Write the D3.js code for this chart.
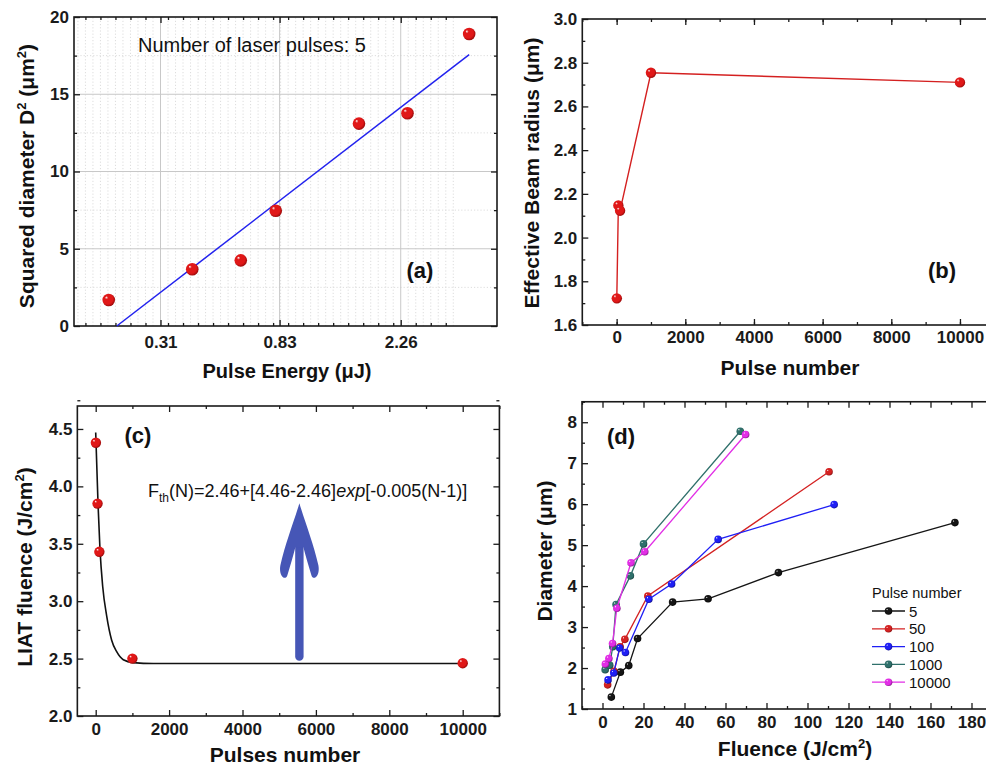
<!DOCTYPE html>
<html>
<head>
<meta charset="utf-8">
<script src="https://cdn.jsdelivr.net/npm/d3@7"></script>
<style>
  body { margin: 0; background: #fff; }
</style>
</head>
<body>
<svg id="chart" width="986" height="769"></svg>
<script>
// ---- (a) squared diameter vs pulse energy (5 pulses) ----
const energyA = [0.202, 0.403, 0.602, 0.804, 1.60, 2.39, 3.98]
const diam2A = [1.68, 3.67, 4.25, 7.46, 13.1, 13.77, 18.9]
const fitEnergyA = [0.216, 3.98]
const fitDiam2A = [0, 17.56]
const energyTicksA = [0.31, 0.83, 2.26]
const diam2TicksA = [0, 5, 10, 15, 20]

// ---- (b) effective beam radius vs pulse number ----
const pulsesB = [5, 50, 100, 1000, 10000]
const radiusB = [1.722, 2.147, 2.123, 2.754, 2.71]

// ---- (c) LIAT fluence vs pulses number ----
const pulsesC = [5, 50, 100, 1000, 10000]
const fluenceC = [4.38, 3.85, 3.43, 2.50, 2.46]
// fitted curve
const fitPulsesC = [0, 63, 117, 190, 300, 435, 572, 752, 1025, 1570, 10000]
const fitFluenceC = [4.47, 3.85, 3.45, 3.13, 2.87, 2.66, 2.56, 2.49, 2.465, 2.457, 2.457]

// ---- (d) diameter vs fluence, one series per pulse number ----
const seriesD = ["5", "50", "100", "1000", "10000"]
const colorsD = ["#151515", "#d42222", "#1f1ff5", "#2f706b", "#e22ee6"]
const fluence_5 = [4.3, 8.7, 12.8, 17.1, 34.2, 51.5, 85.8, 171.9]
const diam_5 = [1.29, 1.90, 2.06, 2.72, 3.61, 3.69, 4.33, 5.55]
const fluence_50 = [2.5, 5.6, 8.6, 10.9, 22.1, 110.5]
const diam_50 = [1.59, 1.92, 2.52, 2.70, 3.76, 6.79]
const fluence_100 = [2.7, 5.5, 8.4, 11.2, 22.6, 33.7, 56.4, 113]
const diam_100 = [1.71, 1.88, 2.49, 2.38, 3.68, 4.05, 5.14, 5.99]
const fluence_1000 = [1.3, 3.5, 5.0, 6.6, 13.6, 20.0, 67.2]
const diam_1000 = [1.96, 2.07, 2.52, 3.55, 4.25, 5.03, 7.78]
const fluence_10000 = [1.4, 3.1, 4.9, 7.0, 13.9, 20.6, 69.8]
const diam_10000 = [2.10, 2.23, 2.60, 3.46, 4.57, 4.84, 7.70]
const fluenceD = [fluence_5, fluence_50, fluence_100, fluence_1000, fluence_10000]
const diamD = [diam_5, diam_50, diam_100, diam_1000, diam_10000]

const FONT = '"Liberation Sans", Arial, Helvetica, sans-serif'
const svg = d3.select("#chart")
const defs = svg.append("defs")

// shiny sphere markers
function sphere(id, base, dark) {
    const gr = defs.append("radialGradient").attr("id", id)
        .attr("cx", "45%").attr("cy", "45%").attr("r", "60%")
        .attr("fx", "30%").attr("fy", "28%")
    gr.append("stop").attr("offset", "0%").attr("stop-color", "#ffffff")
    gr.append("stop").attr("offset", "22%").attr("stop-color", base)
    gr.append("stop").attr("offset", "70%").attr("stop-color", base)
    gr.append("stop").attr("offset", "100%").attr("stop-color", dark)
}
sphere("ball-red", "#e01818", "#8a0606")
const darkD = ["#000000", "#7a0c0c", "#0a0a80", "#123a36", "#7a107e"]
colorsD.forEach((c, i) => sphere("ball-d" + i, c, darkD[i]))

function ticks(g, make, tr, values, size, fmt, pad) {
    const a = make().tickValues(values).tickSize(-size).tickSizeOuter(0)
        .tickPadding(pad || 0).tickFormat(fmt || (() => ""))
    const s = g.append("g").attr("transform", tr).call(a)
    s.select(".domain").remove()
    s.attr("font-size", 17).attr("font-family", FONT).attr("font-weight", "bold").attr("color", "#1a1a1a")
    s.selectAll("line").attr("stroke-width", 1.3)
    return s
}

// frame with inward ticks on all four sides
function axes(g, x, y, o) {
    const [xl, xr] = x.range(), [yb, yt] = y.range()
    const sides = [
        [() => d3.axisBottom(x), `translate(0,${yb})`, o.xMinor, o.xMajor, o.xFmt, o.xPad],
        [() => d3.axisTop(x), `translate(0,${yt})`, o.xMinor, o.xMajor, null, 0],
        [() => d3.axisLeft(y), `translate(${xl},0)`, o.yMinor, o.yMajor, o.yFmt, 5],
        [() => d3.axisRight(y), `translate(${xr},0)`, o.yMinor, o.yMajor, null, 0]
    ]
    sides.forEach(([make, tr, minor, major, fmt, pad]) => {
        ticks(g, make, tr, minor, 3)
        ticks(g, make, tr, major, 6, fmt, pad)
    })
    g.append("rect").attr("x", xl).attr("y", yt).attr("width", xr - xl).attr("height", yb - yt)
        .attr("fill", "none").attr("stroke", "#1a1a1a").attr("stroke-width", 1.6)
}

function label(g, txt, x, y, size, weight, anchor, rotate) {
    const t = g.append("text").attr("font-family", FONT).attr("font-size", size)
        .attr("font-weight", weight || "normal").attr("fill", "#111")
        .attr("text-anchor", anchor || "middle")
    if (rotate) t.attr("transform", `translate(${x},${y}) rotate(-90)`)
    else t.attr("x", x).attr("y", y)
    return t.text(txt)
}
function sup(t, txt) {
    t.append("tspan").attr("font-size", "0.62em").attr("dy", "-0.6em").text(txt)
    return t.append("tspan").attr("dy", "0.37em")
}

const range = (a, b, s) => d3.range(a, b + s / 2, s)

// ================= (a) =================
{
    const g = svg.append("g")
    const x = d3.scaleLog().domain([0.1516, 5.01]).range([74, 497])
    const y = d3.scaleLinear().domain([0, 20]).range([326, 17])
    const lnStep = (Math.log(2.26) - Math.log(0.31)) / 2 / 16
    const minorX = d3.range(-30, 40).map(k => Math.exp(Math.log(0.31) + k * lnStep))
        .filter(v => v > 0.1516 && v < 5.01 && !energyTicksA.some(t => Math.abs(t - v) < 1e-6))
    const minorY = [2.5, 7.5, 12.5, 17.5]

    // grid
    g.append("g").selectAll("line").data(minorX).join("line")
        .attr("x1", d => x(d)).attr("x2", d => x(d)).attr("y1", y(0)).attr("y2", y(20))
        .attr("stroke", "#d4d4d4").attr("stroke-width", 0.8).attr("stroke-dasharray", "1.2,2")
    g.append("g").selectAll("line").data(minorY).join("line")
        .attr("x1", x.range()[0]).attr("x2", x.range()[1]).attr("y1", d => y(d)).attr("y2", d => y(d))
        .attr("stroke", "#d4d4d4").attr("stroke-width", 0.8).attr("stroke-dasharray", "1.2,2")
    g.append("g").selectAll("line").data(energyTicksA).join("line")
        .attr("x1", d => x(d)).attr("x2", d => x(d)).attr("y1", y(0)).attr("y2", y(20))
        .attr("stroke", "#c8c8c8").attr("stroke-width", 1)
    g.append("g").selectAll("line").data([5, 10, 15]).join("line")
        .attr("x1", x.range()[0]).attr("x2", x.range()[1]).attr("y1", d => y(d)).attr("y2", d => y(d))
        .attr("stroke", "#c8c8c8").attr("stroke-width", 1)

    axes(g, x, y, {
        xMajor: energyTicksA, xMinor: minorX.filter((_, i) => i % 2 === 1), xFmt: d => d.toFixed(2), xPad: 10,
        yMajor: diam2TicksA, yMinor: minorY, yFmt: d3.format("d")
    })

    g.append("path").datum(fitEnergyA.map((e, i) => [e, fitDiam2A[i]]))
        .attr("d", d3.line().x(d => x(d[0])).y(d => y(d[1])))
        .attr("fill", "none").attr("stroke", "#2222ee").attr("stroke-width", 1.5)
    g.append("g").selectAll("circle").data(energyA).join("circle")
        .attr("cx", d => x(d)).attr("cy", (d, i) => y(diam2A[i])).attr("r", 6.3)
        .attr("fill", "url(#ball-red)")

    label(g, "Number of laser pulses: 5", 138, 52, 20, "normal", "start")
    label(g, "(a)", 420, 278, 22, "bold")
    label(g, "Pulse Energy (\u03bcJ)", 287, 378, 20, "bold")
    const t = label(g, "Squared diameter D", 34, 176, 21, "bold", "middle", true)
    sup(t, "2").text(" (\u03bcm")
    sup(t, "2").text(")")
}

// ================= (b) =================
{
    const g = svg.append("g")
    const x = d3.scaleLinear().domain([-1000, 11000]).range([582.3, 994.3])
    const y = d3.scaleLinear().domain([1.6, 3.0]).range([325, 19])
    axes(g, x, y, {
        xMajor: range(0, 10000, 2000), xMinor: range(-1000, 11000, 1000), xFmt: d3.format("d"), xPad: 6,
        yMajor: range(1.6, 3.0, 0.2), yMinor: range(1.7, 2.9, 0.2), yFmt: d3.format(".1f")
    })
    const pts = pulsesB.map((p, i) => [p, radiusB[i]])
    g.append("path").datum(pts).attr("d", d3.line().x(d => x(d[0])).y(d => y(d[1])))
        .attr("fill", "none").attr("stroke", "#d42020").attr("stroke-width", 1.4)
    g.append("g").selectAll("circle").data(pts).join("circle")
        .attr("cx", d => x(d[0])).attr("cy", d => y(d[1])).attr("r", 5.2).attr("fill", "url(#ball-red)")
    label(g, "(b)", 942, 278, 22, "bold")
    label(g, "Pulse number", 790, 375, 21, "bold")
    label(g, "Effective Beam radius (\u03bcm)", 539, 173, 21, "bold", "middle", true)
}

// ================= (c) =================
{
    const g = svg.append("g")
    const x = d3.scaleLinear().domain([-500, 11000]).range([77.35, 499.4])
    const y = d3.scaleLinear().domain([2.0, 4.7]).range([716, 406])
    axes(g, x, y, {
        xMajor: range(0, 10000, 2000), xMinor: range(1000, 11000, 2000), xFmt: d3.format("d"), xPad: 7,
        yMajor: range(2.0, 4.5, 0.5), yMinor: range(2.25, 4.75, 0.5), yFmt: d3.format(".1f")
    })
    g.append("path").datum(fitPulsesC.map((p, i) => [p, fitFluenceC[i]]))
        .attr("d", d3.line().x(d => x(d[0])).y(d => y(d[1])).curve(d3.curveMonotoneX))
        .attr("fill", "none").attr("stroke", "#111").attr("stroke-width", 1.6)
    g.append("g").selectAll("circle").data(pulsesC).join("circle")
        .attr("cx", d => x(d)).attr("cy", (d, i) => y(fluenceC[i])).attr("r", 5.2).attr("fill", "url(#ball-red)")

    // big blue arrow pointing at the equation
    const ax = x(5550), ay = y(3.853), ab = y(2.517)
    g.append("line").attr("x1", ax).attr("x2", ax).attr("y1", ay + 44).attr("y2", ab)
        .attr("stroke", "#4656b6").attr("stroke-width", 8.4).attr("stroke-linecap", "round")
    g.append("path").attr("transform", `translate(${ax},${ay})`)
        .attr("d", "M0,0 C6,20 14,40 19,62 C21,73 14,78 12,72 C9,62 6,52 4,44 L-4,44 C-6,52 -9,62 -12,72 C-14,78 -21,73 -19,62 C-14,40 -6,20 0,0 Z")
        .attr("fill", "#4656b6")

    const eq = label(g, "F", 148, 497, 18, "normal", "start")
    eq.append("tspan").attr("font-size", 12).attr("dy", 5).text("th")
    eq.append("tspan").attr("dy", -5).text("(N)=2.46+[4.46-2.46]")
    eq.append("tspan").attr("font-style", "italic").text("exp")
    eq.append("tspan").text("[-0.005(N-1)]")

    label(g, "(c)", 138, 443, 22, "bold")
    label(g, "Pulses number", 285, 762, 21, "bold")
    const t = label(g, "LIAT fluence (J/cm", 32, 567, 21, "bold", "middle", true)
    sup(t, "2").text(")")
}

// ================= (d) =================
{
    const g = svg.append("g")
    const x = d3.scaleLinear().domain([-10, 190]).range([582, 992])
    const y = d3.scaleLinear().domain([1, 8.5]).range([709, 401.75])
    axes(g, x, y, {
        xMajor: range(0, 180, 20), xMinor: range(-10, 190, 20), xFmt: d3.format("d"), xPad: 7,
        yMajor: range(1, 8, 1), yMinor: range(1.5, 8.5, 1), yFmt: d3.format("d")
    })
    const line = d3.line().x(d => x(d[0])).y(d => y(d[1]))
    seriesD.forEach((s, i) => {
        const pts = fluenceD[i].map((f, j) => [f, diamD[i][j]])
        g.append("path").datum(pts).attr("d", line)
            .attr("fill", "none").attr("stroke", colorsD[i]).attr("stroke-width", 1.3)
        g.append("g").selectAll("circle").data(pts).join("circle")
            .attr("cx", d => x(d[0])).attr("cy", d => y(d[1])).attr("r", 3.8)
            .attr("fill", `url(#ball-d${i})`)
    })

    // legend
    const lg = g.append("g")
    label(lg, "Pulse number", 872, 598, 14.5, "normal", "start")
    seriesD.forEach((s, i) => {
        const ly = 611 + i * 17.8
        lg.append("line").attr("x1", 872).attr("x2", 905).attr("y1", ly).attr("y2", ly)
            .attr("stroke", colorsD[i]).attr("stroke-width", 1.3)
        lg.append("circle").attr("cx", 888.5).attr("cy", ly).attr("r", 3.8).attr("fill", `url(#ball-d${i})`)
        label(lg, s, 909, ly + 5.5, 15, "normal", "start")
    })

    label(g, "(d)", 621, 444, 22, "bold")
    const tx = label(g, "Fluence (J/cm", 795, 756, 21, "bold")
    sup(tx, "2").text(")")
    label(g, "Diameter (\u03bcm)", 552, 551, 21, "bold", "middle", true)
}
</script>
</body>
</html>
